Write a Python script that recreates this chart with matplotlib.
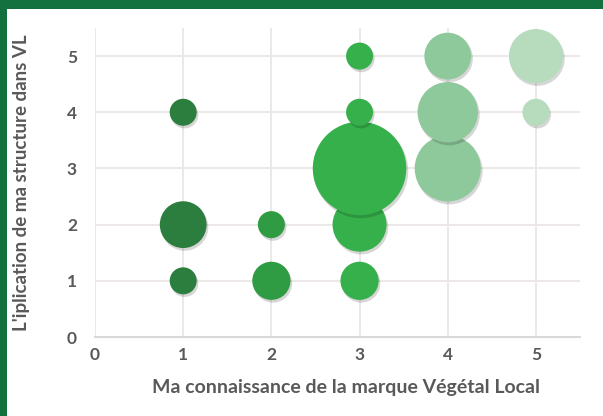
import matplotlib
matplotlib.use("Agg")
import matplotlib.pyplot as plt
from matplotlib.patches import Rectangle
from matplotlib.transforms import offset_copy
import numpy as np

# Data
x_vals = [1, 1, 1, 2, 2, 3, 3, 3, 3, 3, 4, 4, 4, 5, 5]
y_vals = [1, 2, 4, 1, 2, 1, 2, 3, 4, 5, 3, 4, 5, 4, 5]
counts = [1, 3, 1, 2, 1, 2, 4, 12, 1, 1, 6, 5, 3, 1, 4]
x_ticks = [0, 1, 2, 3, 4, 5]
y_ticks = [0, 1, 2, 3, 4, 5]
x_label = "Ma connaissance de la marque Végétal Local"
y_label = "L'iplication de ma structure dans VL"

col_by_x = {1: "#2b7e3d", 2: "#2f9b43", 3: "#36b04b", 4: "#8ec99b", 5: "#b6dcbd"}

plt.rcParams['font.family'] = ['Lato', 'DejaVu Sans']

fig = plt.figure(figsize=(6.03, 4.16), dpi=100)
fig.patch.set_facecolor("#13703f")
# white panel inside green frame
fig.add_artist(Rectangle((7/603, 0), 1 - 7/603, 1 - 9/416, transform=fig.transFigure,
                         facecolor="white", edgecolor="none", zorder=0))

ax = fig.add_axes([95/603, 1 - 337/416, (580 - 95)/603, (337 - 28)/416])
ax.set_facecolor("none")
ax.set_xlim(0, 5.5)
ax.set_ylim(0, 5.5)

# size scale: radius px = 13.5*sqrt(count); s in pt^2
px2pt = 72 / 100
sizes = [(2 * 13.5 * np.sqrt(c) * px2pt) ** 2 for c in counts]
colors = [col_by_x[x] for x in x_vals]

shadow_tr = offset_copy(ax.transData, fig=fig, x=1.5, y=-2.5, units='dots')
for i in range(len(x_vals)):
    ax.scatter([x_vals[i]], [y_vals[i]], s=sizes[i] * 1.02, color="#000000", alpha=0.16,
               edgecolors="none", transform=shadow_tr, zorder=3 + i * 0.01)
    ax.scatter([x_vals[i]], [y_vals[i]], s=sizes[i], color=colors[i],
               edgecolors="none", zorder=3.005 + i * 0.01)

ax.set_xticks(x_ticks)
ax.set_yticks(y_ticks)
ax.grid(True, color="#ece6e6", linewidth=1.3)
ax.set_axisbelow(True)
for s in ["top", "right", "left"]:
    ax.spines[s].set_visible(False)
ax.spines["bottom"].set_color("#d9d9d9")
ax.spines["bottom"].set_linewidth(1.5)
ax.tick_params(axis="x", length=0, labelsize=12.5, labelcolor="#595959", pad=7)
ax.tick_params(axis="y", length=0, labelsize=12.5, labelcolor="#595959", pad=13)
for lab in ax.get_xticklabels() + ax.get_yticklabels():
    lab.set_fontweight("bold")

ax.set_xlabel(x_label, fontsize=14, color="#595959", fontweight="bold")
ax.xaxis.set_label_coords(0.517, -0.135)
ax.set_ylabel(y_label, fontsize=13.5, color="#595959", fontweight="bold")
ax.yaxis.set_label_coords(-0.135, 0.5)

fig.savefig("out.png", dpi=100, facecolor=fig.get_facecolor())
